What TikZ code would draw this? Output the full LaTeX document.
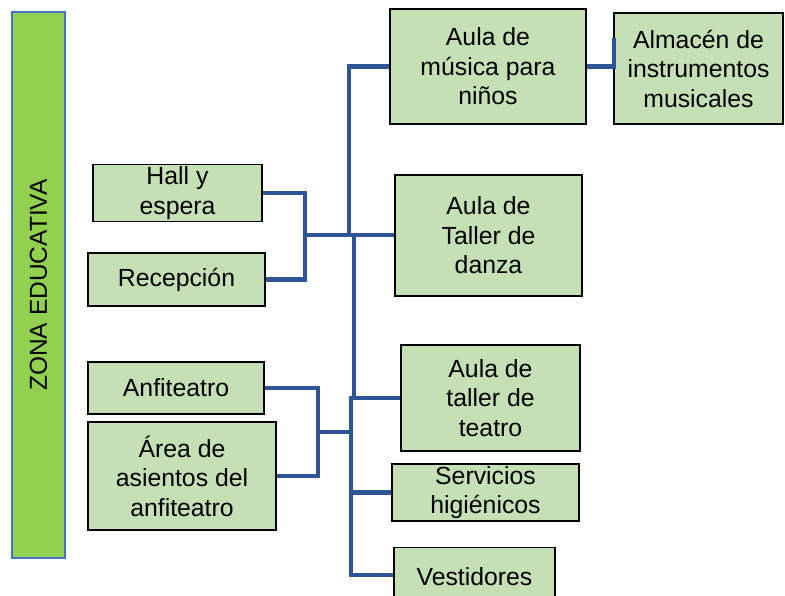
\documentclass[tikz,border=0pt]{standalone}
\usepackage{fontspec}
\setmainfont{Liberation Sans}
\usetikzlibrary{positioning,calc}
\definecolor{boxgreen}{RGB}{197,224,180}
\definecolor{bargreen}{RGB}{146,208,80}
\definecolor{linkblue}{RGB}{47,85,151}
\definecolor{barblue}{RGB}{68,114,196}
\tikzset{
  bx/.style={draw=black, fill=boxgreen, line width=1.4pt, align=center, inner sep=2pt, font=\fontsize{24.8}{29.5}\selectfont},
  zbar/.style={draw=barblue, fill=bargreen, line width=1.6pt, inner sep=0pt},
  ln/.style={draw=linkblue, line width=4.2pt},
}

\begin{document}
\begin{tikzpicture}[x=1pt,y=-1pt]
\useasboundingbox (0,0) rectangle (785,596);
\clip (0,0) rectangle (785,596);
\node[zbar, minimum width=53pt, minimum height=546pt] (zona) at (38.5,285) {};
\node[rotate=90, font=\fontsize{24.5}{29}\selectfont] (zonatxt) at (zona.center) {ZONA EDUCATIVA};
\node[bx, minimum width=196pt, minimum height=115pt] (musica) at (488,66.5) {Aula de\\música para\\niños};
\node[bx, minimum width=169pt, minimum height=111pt] (almacen) at (698.5,68.5) {Almacén de\\instrumentos\\musicales};
\node[bx, minimum width=169pt, minimum height=54pt] (hall) at (177.5,193) {Hall y\\espera};
\node[bx, minimum width=177pt, minimum height=53pt] (recep) at (176.5,279.5) {Recepción};
\node[bx, minimum width=187pt, minimum height=121pt] (danza) at (488.5,235.5) {Aula de\\Taller de\\danza};
\node[bx, minimum width=179pt, minimum height=106pt] (teatro) at (490.5,398) {Aula de\\taller de\\teatro};
\node[bx, minimum width=176pt, minimum height=52pt] (anfi) at (176,388) {Anfiteatro};
\node[bx, minimum width=188pt, minimum height=108pt] (asientos) at (182,476) {Área de\\asientos del\\anfiteatro};
\node[bx, minimum width=187pt, minimum height=55pt] (servicios) at (485.5,492.5) {Servicios\\higiénicos};
\node[bx, minimum width=161pt, minimum height=58pt, anchor=north] (vest) at (474.5,547) {Vestidores};
% junctions
\coordinate (tA) at (349,235);
\coordinate (tB) at (354,235);
\coordinate (tC) at (351,396);
\coordinate (jH) at (305,235);
\coordinate (jA) at (318,432);
\coordinate (kA) at (614,38);
\draw[ln] (musica.west) -| (tA);
\draw[ln] (hall.east) -| (jH) |- (recep.east);
\draw[ln] (jH) -- (jH -| danza.west);
\draw[ln] (tB) |- (teatro.west);
\draw[ln] (tC) |- (servicios.west);
\draw[ln] (tC) |- (vest.west |- 0,575);
\draw[ln] (anfi.east) -| (jA) |- (asientos.east);
\draw[ln] (jA) -- (jA -| tC);
\draw[ln] (musica.east) -| (kA);
\end{tikzpicture}
\end{document}
